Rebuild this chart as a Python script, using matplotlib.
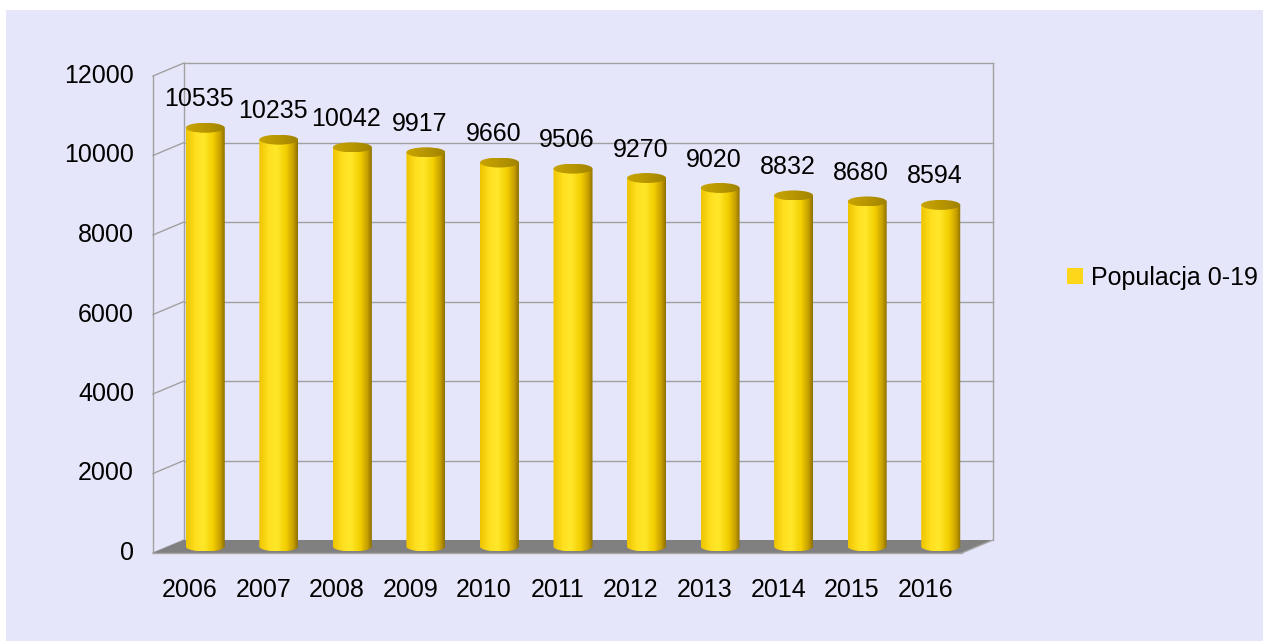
import matplotlib
matplotlib.use("Agg")
import matplotlib.pyplot as plt
import numpy as np
from matplotlib.patches import Polygon, Ellipse, PathPatch, Rectangle, Patch
from matplotlib.path import Path
from matplotlib.colors import LinearSegmentedColormap
import matplotlib.transforms as mtransforms

years = ["2006", "2007", "2008", "2009", "2010", "2011",
         "2012", "2013", "2014", "2015", "2016"]
population = [10535, 10235, 10042, 9917, 9660, 9506,
              9270, 9020, 8832, 8680, 8594]
series_name = "Populacja 0-19"
y_ticks = [0, 2000, 4000, 6000, 8000, 10000, 12000]

plt.rcParams['font.family'] = ['Liberation Sans', 'DejaVu Sans']

W, H = 1265, 641
fs = 18
fig = plt.figure(figsize=(W / 100, H / 100), dpi=100, facecolor="white")
bg = "#E6E6FA"
fig.patches.append(Rectangle((6 / W, 0), (W - 8) / W, (H - 10) / H,
                             transform=fig.transFigure, facecolor=bg,
                             edgecolor="none", zorder=-10))

# front plane of the 3d box
ax = fig.add_axes([153 / W, (H - 553) / H, 809 / W, 477 / H])
ax.set_axis_off()
ax.patch.set_visible(False)
n = len(years)
x0, x1 = -0.5, n - 0.5
ymax = 12000
ax.set_xlim(x0, x1)
ax.set_ylim(0, ymax)
ax.set_autoscale_on(False)

DX, DY = 31, 13  # depth offset in pixels
pix = mtransforms.IdentityTransform()


def depth(f):
    return ax.transData + mtransforms.Affine2D().translate(DX * f, DY * f)


back = depth(1.0)
mid = depth(0.5)
front = ax.transData
grid_c = "#A0A0A0"

# back wall gridlines + frame
for t in y_ticks[1:]:
    ax.plot([x0, x1], [t, t], color=grid_c, lw=1, transform=back, zorder=1,
            clip_on=False)
ax.plot([x1, x1], [0, ymax], color=grid_c, lw=1, transform=back, zorder=1,
        clip_on=False)
ax.plot([x0, x0], [0, ymax], color=grid_c, lw=1, transform=back, zorder=1,
        clip_on=False)

# left wall
ax.plot([x0, x0], [0, ymax], color=grid_c, lw=1, transform=front, zorder=1,
        clip_on=False)
fx = ax.transData.transform
for t in y_ticks:
    p0 = fx((x0, t))
    p1 = p0 + np.array([DX, DY])
    ax.plot([p0[0], p1[0]], [p0[1], p1[1]], color=grid_c, lw=1,
            transform=pix, zorder=1, clip_on=False)

# floor
p_fl = fx((x0, 0))
p_fr = fx((x1, 0))
floor = Polygon([p_fl, p_fr, p_fr + [DX, DY], p_fl + [DX, DY]],
                closed=True, facecolor="#808080", edgecolor="none",
                transform=pix, zorder=2, clip_on=False)
ax.add_patch(floor)
ax.plot([p_fl[0], p_fr[0]], [p_fl[1], p_fl[1]], color="#A8A8A8", lw=1,
        transform=pix, zorder=2, clip_on=False)
ax.plot([p_fr[0], p_fr[0] + DX], [p_fr[1], p_fr[1] + DY], color="#A8A8A8",
        lw=1, transform=pix, zorder=2, clip_on=False)

# cylinders
px_per_unit_y = ax.bbox.height / ymax
px_per_unit_x = ax.bbox.width / (x1 - x0)
bw = 39 / px_per_unit_x
eh = 5 / px_per_unit_y

body_cmap = LinearSegmentedColormap.from_list("body", [
    (0.0, "#EEC400"), (0.25, "#FFE020"), (0.45, "#FFE82A"),
    (0.7, "#F2CE00"), (0.88, "#C8A000"), (1.0, "#8C7000")])
top_cmap = LinearSegmentedColormap.from_list("top", [
    (0.0, "#C8A400"), (0.5, "#B89600"), (1.0, "#A08200")])
grad = np.linspace(0, 1, 256).reshape(1, -1)

for i, v in enumerate(population):
    xl, xr = i - bw / 2, i + bw / 2
    th = np.linspace(np.pi, 2 * np.pi, 40)
    bottom = np.column_stack([i + bw / 2 * np.cos(th), eh * np.sin(th)])
    verts = np.vstack([[[xl, v]], bottom, [[xr, v]], [[xl, v]]])
    clip = PathPatch(Path(verts), transform=mid, facecolor="none",
                     edgecolor="none", clip_on=False)
    ax.add_patch(clip)
    im = ax.imshow(grad, cmap=body_cmap, aspect="auto",
                   extent=(xl, xr, -eh, v), transform=mid, zorder=3,
                   interpolation="bilinear")
    im.set_clip_path(clip)
    im.set_clip_box(fig.bbox)
    top = Ellipse((i, v), bw, 2 * eh, transform=mid, facecolor="none",
                  edgecolor="none", clip_on=False)
    ax.add_patch(top)
    im2 = ax.imshow(grad, cmap=top_cmap, aspect="auto",
                    extent=(xl, xr, v - eh, v + eh), transform=mid,
                    zorder=4, interpolation="bilinear")
    im2.set_clip_path(top)
    im2.set_clip_box(fig.bbox)
    # value label
    lab = depth(0.3) + mtransforms.Affine2D().translate(0, 31)
    ax.text(i, v, str(v), transform=lab, ha="center", va="center",
            fontsize=fs, color="black", zorder=5)

ax.set_xlim(x0, x1)
ax.set_ylim(0, ymax)

# axis labels
for t in y_ticks:
    ax.text(x0, t, str(t), transform=front + mtransforms.Affine2D().translate(-19, 0),
            ha="right", va="center", fontsize=fs)
for i, yr in enumerate(years):
    ax.text(i, 0, yr, transform=front + mtransforms.Affine2D().translate(0, -37),
            ha="center", va="center", fontsize=fs)

fig.legend(handles=[Patch(facecolor="#FFD71A", edgecolor="none", label=series_name)],
           loc="center left", bbox_to_anchor=(1067 / W, 1 - 278 / H),
           frameon=False, fontsize=fs, handlelength=0.62, handleheight=0.62,
           handletextpad=0.33, borderpad=0, borderaxespad=0)

fig.savefig("out.png", dpi=100, facecolor="white")
